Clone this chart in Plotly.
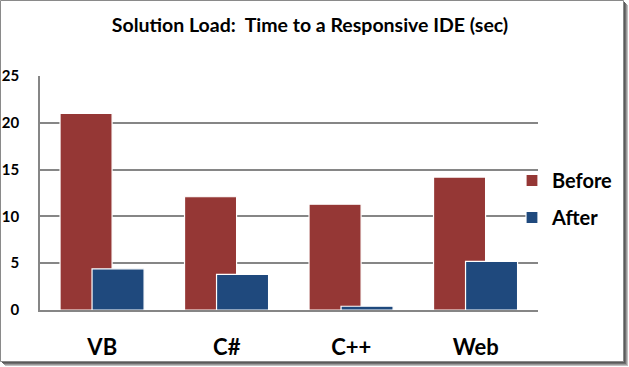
import plotly.graph_objects as go

categories = ["VB", "C#", "C++", "Web"]
before = [21.0, 12.1, 11.3, 14.2]
after = [4.4, 3.8, 0.4, 5.2]
series_names = ["Before", "After"]
y_ticks = [0, 5, 10, 15, 20, 25]

RED = "#953735"
BLUE = "#1F497D"
GRID = "#868686"
FONT = "Lato"

W, H = 629, 367
L, R, T, B = 40, 538, 76, 310

def px_x(p):
    return (p - L) / (R - L)

def px_y(p):
    return (B - p) / (B - T)

fig = go.Figure()
fig.add_trace(go.Bar(
    x=categories, y=before, name=series_names[0],
    marker=dict(color=RED, line=dict(color="white", width=1.2)),
    width=0.418, offset=-0.339, legendgroup="a",
))
fig.add_trace(go.Bar(
    x=categories, y=after, name=series_names[1],
    marker=dict(color=BLUE, line=dict(color="white", width=1.2)),
    width=0.418, offset=-0.082, legendgroup="b",
))

shapes = []
# drop shadow layers
for ext, col in [(5, "#c0c0c0"), (4, "#9a9a9a"), (3, "#707070"), (2, "#5a5a5a"), (1, "#505050")]:
    shapes.append(dict(type="rect", xref="paper", yref="paper", layer="below",
                       x0=px_x(ext), x1=px_x(623 + ext), y0=px_y(ext), y1=px_y(361 + ext),
                       fillcolor=col, line=dict(width=0)))
shapes.append(dict(type="rect", xref="paper", yref="paper", layer="below",
                   x0=px_x(0.5), x1=px_x(623.5), y0=px_y(0.5), y1=px_y(361.5),
                   fillcolor="white", line=dict(color="#8a8a8a", width=1)))

fig.update_layout(
    width=W, height=H,
    margin=dict(l=L, r=W - R, t=T, b=H - B, pad=0, autoexpand=False),
    paper_bgcolor="white", plot_bgcolor="rgba(0,0,0,0)",
    barmode="overlay",
    font=dict(family=FONT, color="black", weight="bold"),
    title=dict(text="Solution Load:  Time to a Responsive IDE (sec)",
               x=310 / W, xanchor="center", y=1 - 25 / H, yanchor="middle",
               font=dict(size=19.5, family=FONT, color="black", weight="bold")),
    showlegend=True,
    legend=dict(x=px_x(512), xanchor="left", y=px_y(161), yanchor="top",
                font=dict(size=20, family=FONT, color="black", weight="bold"),
                traceorder="grouped", tracegroupgap=8,
                bgcolor="rgba(0,0,0,0)"),
    shapes=shapes,
    xaxis=dict(type="category", range=[-0.5, 3.5], showgrid=False, automargin=False,
               showline=True, linecolor=GRID, linewidth=1.5, ticks="",
               tickfont=dict(size=22, family=FONT, color="black", weight="bold"),
               ticklabelstandoff=17, fixedrange=True),
    yaxis=dict(range=[0, 25], tickvals=y_ticks, automargin=False,
               showgrid=True, gridcolor=GRID, gridwidth=1.5,
               showline=True, linecolor=GRID, linewidth=1.5,
               zeroline=False, ticks="",
               tickfont=dict(size=15, family=FONT, color="black", weight="bold"),
               ticklabelstandoff=16, fixedrange=True),
)

fig.write_html(
    "out.html",
    config={"displayModeBar": False},
    post_script="document.body.style.margin='0px';document.body.style.overflow='hidden';",
)
